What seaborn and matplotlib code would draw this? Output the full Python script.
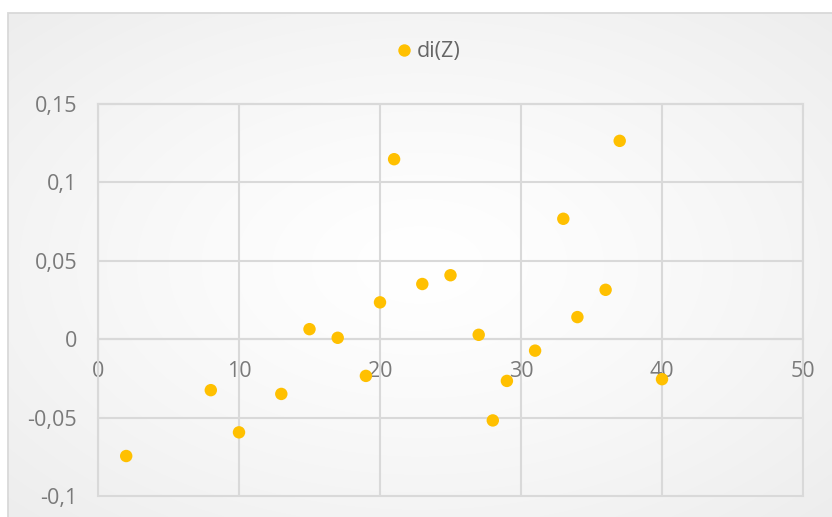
import numpy as np
import pandas as pd
import matplotlib
matplotlib.use("Agg")
import matplotlib.pyplot as plt
from matplotlib.patches import Rectangle
import seaborn as sns

# Residual values di(Z) by observation index
x_vals = [2, 8, 10, 13, 15, 17, 19, 20, 21, 23, 25, 27, 28, 29, 31, 33, 34, 36, 37, 40]
di_z = [-0.0745, -0.0325, -0.0594, -0.0349, 0.0064, 0.0009, -0.0234, 0.0235,
        0.1148, 0.0352, 0.0408, 0.0028, -0.0518, -0.0266, -0.0073, 0.0768,
        0.0141, 0.0315, 0.1265, -0.0255]
series_name = "di(Z)"

x_ticks = [0, 10, 20, 30, 40, 50]
x_tick_labels = ["0", "10", "20", "30", "40", "50"]
y_ticks = [-0.1, -0.05, 0, 0.05, 0.1, 0.15]
y_tick_labels = ["-0,1", "-0,05", "0", "0,05", "0,1", "0,15"]

df = pd.DataFrame({"x": x_vals, "y": di_z, "series": series_name})

sns.set_style("white")
plt.rcParams["font.family"] = ["Open Sans", "DejaVu Sans"]

W, H = 832, 517
fig = plt.figure(figsize=(W / 100, H / 100), dpi=100)
fig.patch.set_facecolor("white")

# Chart area with a soft radial gradient and thin border
bx0, by1 = 8 / W, 1 - 13 / H
bg = fig.add_axes([bx0, 0, 1 - bx0, by1], zorder=0)
gy, gx = np.mgrid[-1:1:300j, -1:1:400j]
r = np.clip(np.sqrt(gx ** 2 + gy ** 2) / np.sqrt(2), 0, 1)
shade = 1.0 - 0.07 * r ** 1.3
bg.imshow(np.dstack([shade, shade, shade]), aspect="auto", extent=[0, 1, 0, 1],
          interpolation="bilinear")
bg.set_axis_off()
fig.patches.append(Rectangle((bx0, -0.01), 1.2, by1 + 0.01, transform=fig.transFigure,
                             fill=False, edgecolor="#d9d9d9", linewidth=1.3, zorder=1))

# Plot area
left, right, bottom, top = 98 / W, 803 / W, 1 - 496 / H, 1 - 104 / H
ax = fig.add_axes([left, bottom, right - left, top - bottom], zorder=2)
ax.set_facecolor("none")

sns.scatterplot(data=df, x="x", y="y", hue="series", palette=["#FFC000"],
                s=80, edgecolor="none", linewidth=0, ax=ax, zorder=3)

ax.set_xlim(0, 50)
ax.set_ylim(-0.1, 0.15)
ax.set_xticks(x_ticks)
ax.set_xticklabels(x_tick_labels)
ax.set_yticks(y_ticks)
ax.set_yticklabels(y_tick_labels)
ax.set_xlabel("")
ax.set_ylabel("")

grid_c = "#d9d9d9"
ax.grid(True, color=grid_c, linewidth=1.5)
ax.set_axisbelow(True)
for ln in ax.get_xgridlines() + ax.get_ygridlines():
    ln.set_clip_on(False)

# Horizontal axis crosses at zero
ax.spines["bottom"].set_position(("data", 0))
for side in ["bottom", "top", "left", "right"]:
    ax.spines[side].set_color(grid_c)
    ax.spines[side].set_linewidth(1.5)

ax.tick_params(axis="both", length=0, labelsize=15.5, labelcolor="#7a7a7a")
ax.tick_params(axis="x", pad=15.5)
ax.tick_params(axis="y", pad=15)

leg = ax.legend(loc="center", bbox_to_anchor=(427 / W, 1 - 52 / H),
                bbox_transform=fig.transFigure, frameon=False, fontsize=15.5,
                handletextpad=0.1, handlelength=1.0, borderpad=0)
for t in leg.get_texts():
    t.set_color("#666666")

fig.savefig("out.png", dpi=100)
